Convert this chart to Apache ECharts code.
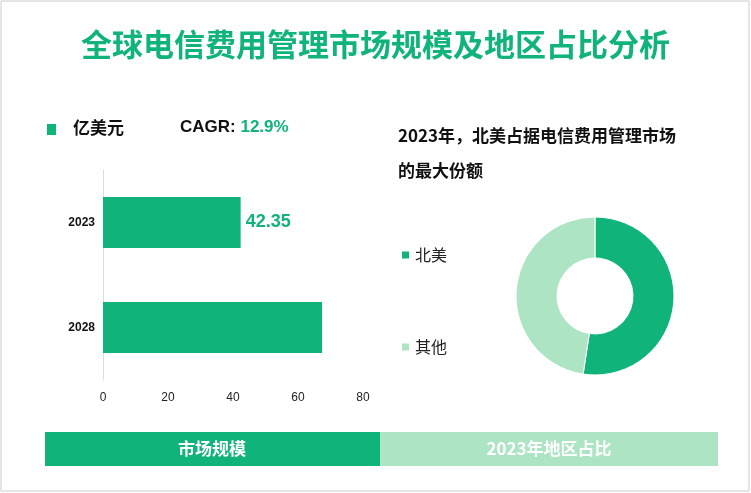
<!DOCTYPE html>
<html><head><meta charset="utf-8">
<script src="https://cdn.jsdelivr.net/npm/echarts@6/dist/echarts.min.js"></script>
<style>html,body{margin:0;padding:0;background:#fff}#c{width:751px;height:493px}</style>
</head><body><div id="c"></div>
<script>
var years = ['2023', '2028'];
var marketSize = [42.35, 67.4];
var sizeLabels = ['42.35', ''];
var regions = ['北美', '其他'];
var regionShare = [52.4, 47.6];

var green = '#10b47a', lightGreen = '#ade5c4';
var chart = echarts.init(document.getElementById('c'));
chart.setOption({
    animation: false,
    title: [
        {text: '全球电信费用管理市场规模及地区占比分析', left: 'center', top: 24,
         textStyle: {color: green, fontSize: 31, fontWeight: 'bold', fontFamily: 'Noto Sans CJK SC'}},
        {text: '2023年，北美占据电信费用管理市场\n的最大份额', left: 393, top: 113,
         textStyle: {color: '#111', fontSize: 17, fontWeight: 'bold', lineHeight: 35, fontFamily: 'Noto Sans CJK SC'}}
    ],
    legend: {
        orient: 'vertical', left: 395, top: 242, itemGap: 76, itemWidth: 9, itemHeight: 9,
        icon: 'rect', data: regions,
        textStyle: {fontSize: 16, color: '#222', fontFamily: 'Noto Sans CJK SC'}
    },
    grid: {left: 103, right: 388, top: 170, bottom: 113},
    xAxis: {type: 'value', min: 0, max: 80, interval: 20,
        splitLine: {show: false}, axisLine: {show: false}, axisTick: {show: false},
        axisLabel: {color: '#222', fontSize: 12, margin: 12}},
    yAxis: {type: 'category', data: years, inverse: true,
        axisLine: {show: true, lineStyle: {color: '#ddd'}}, axisTick: {show: false},
        axisLabel: {color: '#111', fontSize: 12, fontWeight: 'bold'}},
    series: [
        {type: 'bar', data: marketSize, barWidth: 51, itemStyle: {color: green},
         label: {show: true, position: 'right', color: green, fontSize: 18, fontWeight: 'bold',
            formatter: function (p) { return sizeLabels[p.dataIndex]; }}},
        {type: 'pie', center: [595, 296], radius: [38, 79], startAngle: 90, clockwise: true,
         label: {show: false}, labelLine: {show: false},
         itemStyle: {borderColor: '#fff', borderWidth: 1},
         color: [green, lightGreen],
         data: regions.map(function (r, i) { return {name: r, value: regionShare[i]}; })}
    ],
    graphic: [
        {type: 'rect', shape: {x: 1, y: 1, width: 748, height: 490}, style: {fill: 'none', stroke: '#ccc'}},
        {type: 'rect', left: 47, top: 124, shape: {width: 9, height: 11}, style: {fill: green}},
        {type: 'text', left: 73, top: 119, style: {text: '亿美元', fontSize: 17, fontWeight: 'bold', fill: '#111', fontFamily: 'Noto Sans CJK SC'}},
        {type: 'text', left: 180, top: 119, style: {text: '{a|CAGR: }{b|12.9%}',
            rich: {a: {fontSize: 17, fontWeight: 'bold', fill: '#111'}, b: {fontSize: 17, fontWeight: 'bold', fill: green}}}},
        {type: 'rect', shape: {x: 45, y: 432, width: 335, height: 34}, style: {fill: green}},
        {type: 'rect', shape: {x: 380, y: 432, width: 338, height: 34}, style: {fill: lightGreen}},
        {type: 'text', x: 212, y: 449, style: {text: '市场规模', fontSize: 17, fontWeight: 'bold', fill: '#fff', align: 'center', verticalAlign: 'middle', fontFamily: 'Noto Sans CJK SC'}},
        {type: 'text', x: 549, y: 449, style: {text: '2023年地区占比', fontSize: 17, fontWeight: 'bold', fill: '#fff', align: 'center', verticalAlign: 'middle', fontFamily: 'Noto Sans CJK SC'}}
    ]
});
</script></body></html>
